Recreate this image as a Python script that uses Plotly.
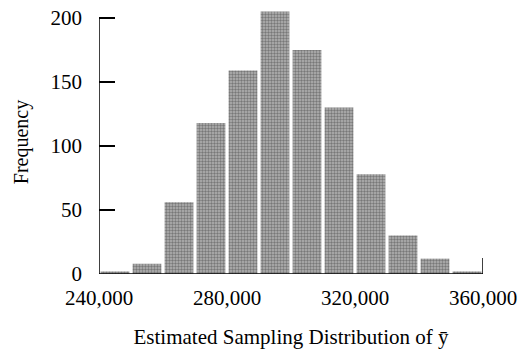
import plotly.graph_objects as go

# Histogram of 1000 bootstrap estimates of the sample mean
bin_starts = [240000, 250000, 260000, 270000, 280000, 290000,
              300000, 310000, 320000, 330000, 340000, 350000]
bin_width = 10000
counts = [2, 8, 56, 118, 159, 205, 175, 130, 78, 30, 12, 2]

x_ticks = [240000, 280000, 320000, 360000]
x_tick_text = ["240,000", "280,000", "320,000", "360,000"]
y_ticks = [0, 50, 100, 150, 200]

centers = [s + bin_width / 2 for s in bin_starts]
serif = "Liberation Serif, Times New Roman, serif"
font = dict(family=serif, size=21, color="black")

fig = go.Figure(go.Bar(
    x=centers, y=counts, width=bin_width * 0.9,
    marker=dict(
        color="#a0a0a0",
        line=dict(width=0),
        pattern=dict(shape=".", fgcolor="#3c3c3c", bgcolor="#b4b4b4",
                     size=3, solidity=0.5),
    ),
))

x_lo, x_hi = bin_starts[0], bin_starts[-1] + bin_width
fig.update_layout(
    width=518, height=349,
    margin=dict(l=99, r=35, t=10, b=75),
    paper_bgcolor="white", plot_bgcolor="white",
    font=font, showlegend=False,
    xaxis=dict(range=[x_lo, x_hi], tickvals=x_ticks, ticktext=x_tick_text,
               ticks="", showgrid=False, zeroline=False, showline=False,
               automargin=False, tickfont=font, ticklabelstandoff=9,
               title=dict(text="Estimated Sampling Distribution of ȳ",
                          font=dict(family=serif, size=21, color="black"), standoff=20)),
    yaxis=dict(range=[0, 206.25], tickvals=y_ticks, ticks="inside", ticklen=16,
               tickwidth=1.5, tickcolor="black", showgrid=False, zeroline=False,
               showline=False, automargin=False, tickfont=font, ticklabelstandoff=16,
               title=dict(text="Frequency", font=dict(family=serif, size=20, color="black"),
                          standoff=16)),
    shapes=[
        # left axis, only up to the top tick
        dict(type="line", xref="x", yref="y", x0=x_lo, x1=x_lo, y0=0, y1=y_ticks[-1],
             line=dict(color="black", width=1.5)),
        # bottom axis
        dict(type="line", xref="x", yref="y", x0=x_lo, x1=x_hi, y0=0, y1=0,
             line=dict(color="black", width=1.5)),
        # closing tick at the right end of the bottom axis
        dict(type="line", xref="x", yref="y", x0=x_hi, x1=x_hi, y0=0, y1=12.5,
             line=dict(color="black", width=1.5)),
    ],
)

fig.write_html("out.html")
